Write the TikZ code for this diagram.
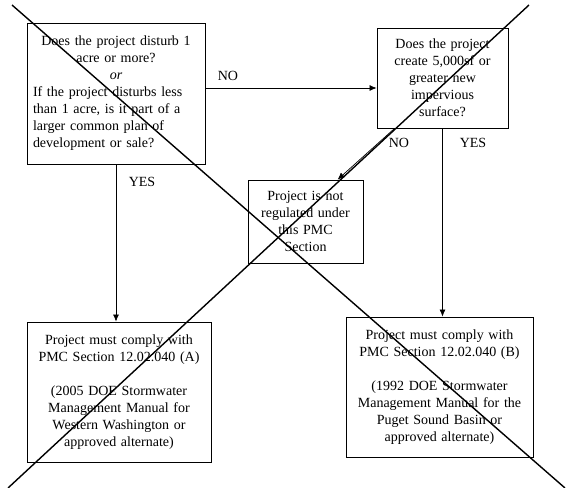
\documentclass[tikz,border=0pt]{standalone}
\usepackage{fontspec}
\setmainfont{Liberation Serif}
\usetikzlibrary{arrows.meta}
\begin{document}
\begin{tikzpicture}[x=1pt, y=-1pt, every node/.style={font=\fontsize{14}{17}\selectfont}]
  \tikzstyle{box}=[draw,line width=0.8pt,inner sep=0pt,align=center]
  \tikzstyle{arr}=[line width=0.7pt,-{Latex[length=7pt,width=6pt]}]
  \tikzstyle{cross}=[line width=1.4pt]
  \useasboundingbox (0,0) rectangle (566,488);
  \node[box,minimum width=178,minimum height=141,text width=166,align=left] (q1) at (116,93.5)
    {\centering Does the project disturb 1\\acre or more?\\\textit{or}\par\raggedright If the project disturbs less\\than 1 acre, is it part of a\\larger common plan of\\development or sale?};
  \node[box,minimum width=131,minimum height=100,text width=124] (q2) at (442.5,78)
    {Does the project\\create 5,000sf or\\greater new\\impervious\\surface?};
  \node[box,minimum width=115,minimum height=83,text width=110] (nreg) at (305.5,221.5)
    {Project is not\\regulated under\\this PMC\\Section};
  \node[box,minimum width=184,minimum height=140,text width=180] (compa) at (119,392)
    {Project must comply with\\PMC Section 12.02.040 (A)\\[17pt](2005 DOE Stormwater\\Management Manual for\\Western Washington or\\approved alternate)};
  \node[box,minimum width=187,minimum height=140,text width=182] (compb) at (439.5,387)
    {Project must comply with\\PMC Section 12.02.040 (B)\\[17pt](1992 DOE Stormwater\\Management Manual for the\\Puget Sound Basin or\\approved alternate)};
  \draw[arr] ([yshift=5.5pt]q1.east) -- ([yshift=-10pt]q2.west);
  \draw[arr] (q1.south) -- (q1.south |- compa.north);
  \draw[arr] (q2.south) -- (q2.south |- compb.north);
  \draw[arr] ([xshift=18pt]q2.south west) -- ([xshift=90pt]nreg.north west);
  \node (no1) at (228,76) {NO};
  \node (yes1) at (142,182) {YES};
  \node (no2) at (399,143) {NO};
  \node (yes2) at (473,143) {YES};
  \draw[cross] (12,5) -- (565,488);
  \draw[cross] (529,5) -- (8,488);
\end{tikzpicture}
\end{document}
